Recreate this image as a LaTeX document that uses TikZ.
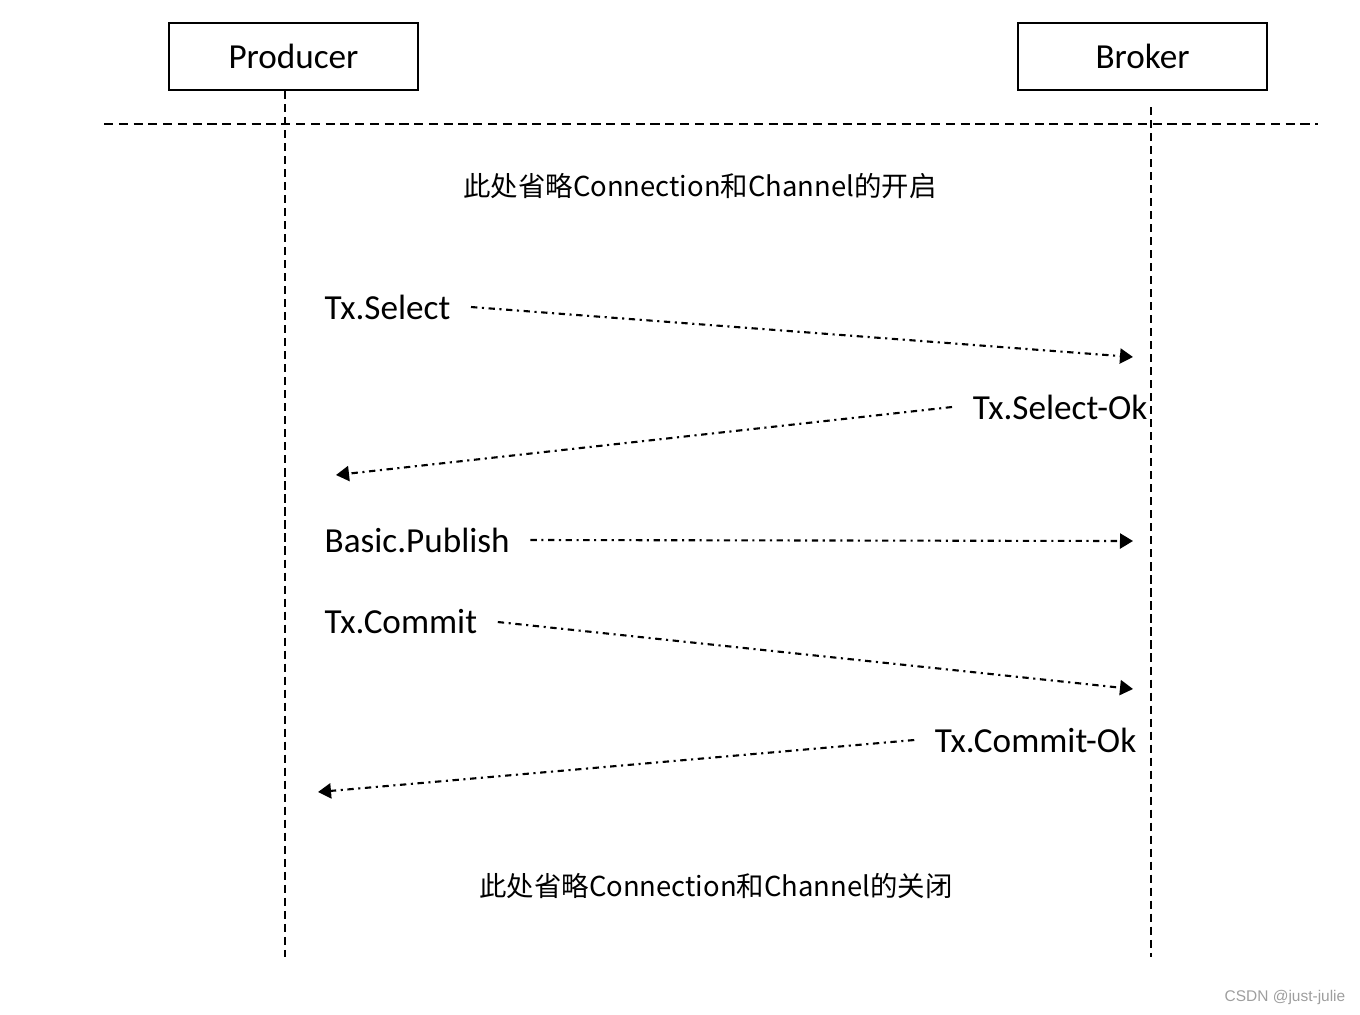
\documentclass[tikz,border=0pt]{standalone}
\usepackage{fontspec}
\setmainfont{Carlito}
\newfontfamily\cjkfont{Noto Sans CJK SC}
\newfontfamily\markfont{Liberation Sans}
\usetikzlibrary{arrows.meta, positioning}
\tikzset{
    actor/.style={draw, line width=0.6pt, minimum width=2.49cm, minimum height=0.67cm,
        font=\fontsize{10}{12}\selectfont}, % the two boxes on top
    lifeline/.style={line width=0.6pt, dash pattern=on 2.3pt off 1.4pt},
    separator/.style={line width=0.6pt, dash pattern=on 2.6pt off 1.6pt},
    note/.style={font=\cjkfont\fontsize{7.8}{10}\selectfont},
    msg/.style={font=\fontsize{10}{12}\selectfont, inner xsep=0.2cm, inner ysep=0pt},
    call/.style={line width=0.6pt, dash pattern=on 1.8pt off 1.3pt on 0.6pt off 1.3pt,
        -{Triangle[length=3.7pt, width=4.3pt]}}, % dash-dot messages
}
\begin{document}
\begin{tikzpicture}[x=0.01cm, y=-0.01cm]
    \useasboundingbox (0,0) rectangle (1360,1014);

    \node[actor] (producer) at (293.5,56.5) {Producer};
    \node[actor] (broker) at (1142.5,56.5) {Broker};

    % lifelines
    \coordinate (p end) at (285,957);
    \coordinate (b top) at (1151,107);
    \coordinate (b end) at (1151,957);
    \draw[lifeline] (producer.south -| p end) -- (p end);
    \draw[lifeline] (b top) -- (b end);

    % separator
    \coordinate (sep l) at (104,124);
    \coordinate (sep r) at (1318,124);
    \draw[separator] (sep l) -- (sep r);

    \node[note] (open) at (700,186) {此处省略Connection和Channel的开启};
    \node[note] (close) at (716,886) {此处省略Connection和Channel的关闭};

    % messages
    \node[msg, anchor=west] (select) at (304,307) {Tx.Select};
    \node[msg, anchor=east] (selectok) at (1168,407) {Tx.Select-Ok};
    \node[msg, anchor=west] (publish) at (304,540) {Basic.Publish};
    \node[msg, anchor=west] (commit) at (304,622) {Tx.Commit};
    \node[msg, anchor=east] (commitok) at (1157,740) {Tx.Commit-Ok};

    \coordinate (select to) at (1133,357);
    \coordinate (selectok to) at (336,475);
    \coordinate (publish to) at (1133,541);
    \coordinate (commit to) at (1133,689);
    \coordinate (commitok to) at (318,792);

    \draw[call] (select.east) -- (select to);
    \draw[call] (selectok.west) -- (selectok to);
    \draw[call] (publish.east) -- (publish to);
    \draw[call] (commit.east) -- (commit to);
    \draw[call] (commitok.west) -- (commitok to);

    \node[font=\markfont\fontsize{4.4}{5}\selectfont, text=black!38] (mark) at (1285,997) {CSDN @just-julie};
\end{tikzpicture}
\end{document}
